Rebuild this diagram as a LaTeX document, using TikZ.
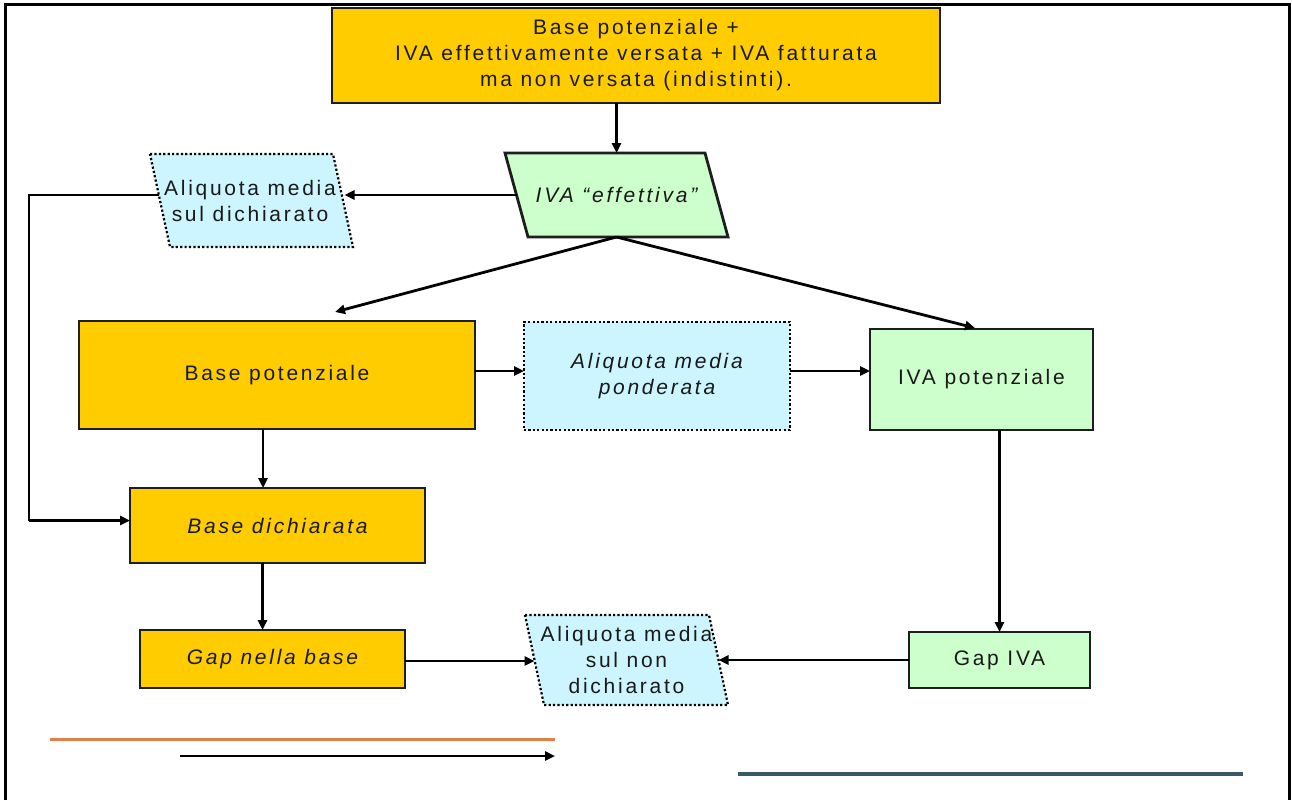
\documentclass[tikz,border=0pt]{standalone}
\usepackage{fontspec}
\setmainfont[LetterSpace=13]{Liberation Sans}
\usetikzlibrary{arrows.meta,backgrounds}
\definecolor{gold}{RGB}{255,204,0}
\definecolor{lgreen}{RGB}{204,255,204}
\definecolor{lcyan}{RGB}{204,245,255}
\definecolor{edgec}{RGB}{30,30,30}
\definecolor{txtc}{RGB}{25,25,25}
\definecolor{orng}{RGB}{226,128,72}
\definecolor{slate}{RGB}{58,88,104}
\newcommand\fs{\fontsize{21}{26}\selectfont}
\tikzset{
  basebox/.style={rectangle, line width=2.8pt, inner sep=0pt, outer sep=0pt, align=center, font=\fs, text=txtc},
  goldbox/.style={basebox, draw=edgec, fill=gold},
  greenbox/.style={basebox, draw=edgec, fill=lgreen},
  dotbox/.style={basebox, draw=black, fill=lcyan, line width=2.2pt, dash pattern=on 2.2pt off 2.2pt},
  plabel/.style={rectangle, inner sep=0pt, outer sep=0pt, align=center, font=\fs, text=txtc},
  pgreen/.style={draw=edgec, fill=lgreen, line width=2.8pt, line join=miter},
  pdot/.style={draw=black, fill=lcyan, line width=2.2pt, dash pattern=on 2.2pt off 2.2pt},
  conn/.style={draw=black, line width=2.8pt},
  arr/.style={conn, -{Triangle[length=10pt,width=9pt]}},
  frameline/.style={draw=black, line width=3pt},
}
\begin{document}
\begin{tikzpicture}[x=1pt,y=-1pt]
\useasboundingbox (0,0) rectangle (1292,800);
% frame
\draw[frameline] (5,800) -- (5,5) -- (1289,5) -- (1289,800);

% nodes
\node[goldbox, minimum width=608, minimum height=95] (t0) at (636,55.5)
  {Base potenziale +\\IVA effettivamente versata + IVA fatturata\\ma non versata (indistinti).};
\node[plabel, minimum width=200, minimum height=84] (eff) at (616.5,195) {\itshape IVA “effettiva”};
\node[plabel, minimum width=183, minimum height=93] (ald) at (250,200.5) {Aliquota media\\sul dichiarato};
\node[goldbox, minimum width=396, minimum height=108] (bp) at (277,375) {Base potenziale};
\node[dotbox, minimum width=266, minimum height=108] (amp) at (657,376) {\itshape Aliquota media\\\itshape ponderata};
\node[greenbox, minimum width=223, minimum height=101] (ivp) at (981.5,379.5) {IVA potenziale};
\node[goldbox, minimum width=295, minimum height=75] (bd) at (277.5,525.5) {\itshape Base dichiarata};
\node[goldbox, minimum width=265, minimum height=58] (gnb) at (272.5,659) {\itshape Gap nella base};
\node[plabel, minimum width=184, minimum height=90] (anp) at (626.5,660) {Aliquota media\\sul non\\dichiarato};
\node[greenbox, minimum width=181, minimum height=56] (giva) at (999.5,660) {Gap IVA};

% parallelogram outlines
\begin{scope}[on background layer]
\draw[pgreen] ([xshift=-11.5pt]eff.north west) -- ([xshift=-11.5pt]eff.north east)
  -- ([xshift=11.5pt]eff.south east) -- ([xshift=11.5pt]eff.south west) -- cycle;
\draw[pdot] ([xshift=-8.5pt]ald.north west) -- ([xshift=-8.5pt]ald.north east)
  -- ([xshift=11.5pt]ald.south east) -- ([xshift=11.5pt]ald.south west) -- cycle;
\draw[pdot] ([xshift=-9.5pt]anp.north west) -- ([xshift=-9.5pt]anp.north east)
  -- ([xshift=9.5pt]anp.south east) -- ([xshift=9.5pt]anp.south west) -- cycle;
\end{scope}

% helper coordinates
\coordinate (lc) at (29,0);
\coordinate (bdin) at ([yshift=5pt]bd.west);
\coordinate (bpin) at (335,312);
\coordinate (ivpin) at (975,328);

% connectors
\draw[arr] (eff.north |- t0.south) -- (eff.north);
\draw[arr] (eff.west) -- ([xshift=3pt]eff.west -| ald.east);
\draw[conn] (ald.west |- eff.west) -- (lc |- eff.west) -- (lc |- bdin);
\draw[arr] (lc |- bdin) -- (bdin);
\draw[arr] (eff.south) -- (bpin);
\draw[arr] (eff.south) -- (ivpin);
\draw[arr] ([yshift=4pt]bp.east) -- ([yshift=4pt]bp.east -| amp.west);
\draw[arr] ([yshift=5pt]amp.east) -- ([yshift=5pt]amp.east -| ivp.west);
\draw[arr] ([xshift=-14pt]bp.south) -- ([xshift=-14pt]bp.south |- bd.north);
\draw[arr] ([xshift=-15pt]bd.south) -- ([xshift=-15pt]bd.south |- gnb.north);
\draw[arr] ([yshift=-2pt]gnb.east) -- ([yshift=-2pt]gnb.east -| anp.west);
\draw[arr] (giva.north |- ivp.south) -- (giva.north);
\draw[arr] (giva.west) -- (giva.west -| anp.east);

% bottom lines
\coordinate (o1) at (50,739);
\coordinate (o2) at (555,739);
\coordinate (k1) at (180,756);
\coordinate (k2) at (555,756);
\coordinate (b1) at (738,774);
\coordinate (b2) at (1243,774);
\draw[draw=orng, line width=3pt] (o1) -- (o2);
\draw[arr, line width=2.4pt] (k1) -- (k2);
\draw[draw=slate, line width=3.5pt] (b1) -- (b2);
\end{tikzpicture}
\end{document}
